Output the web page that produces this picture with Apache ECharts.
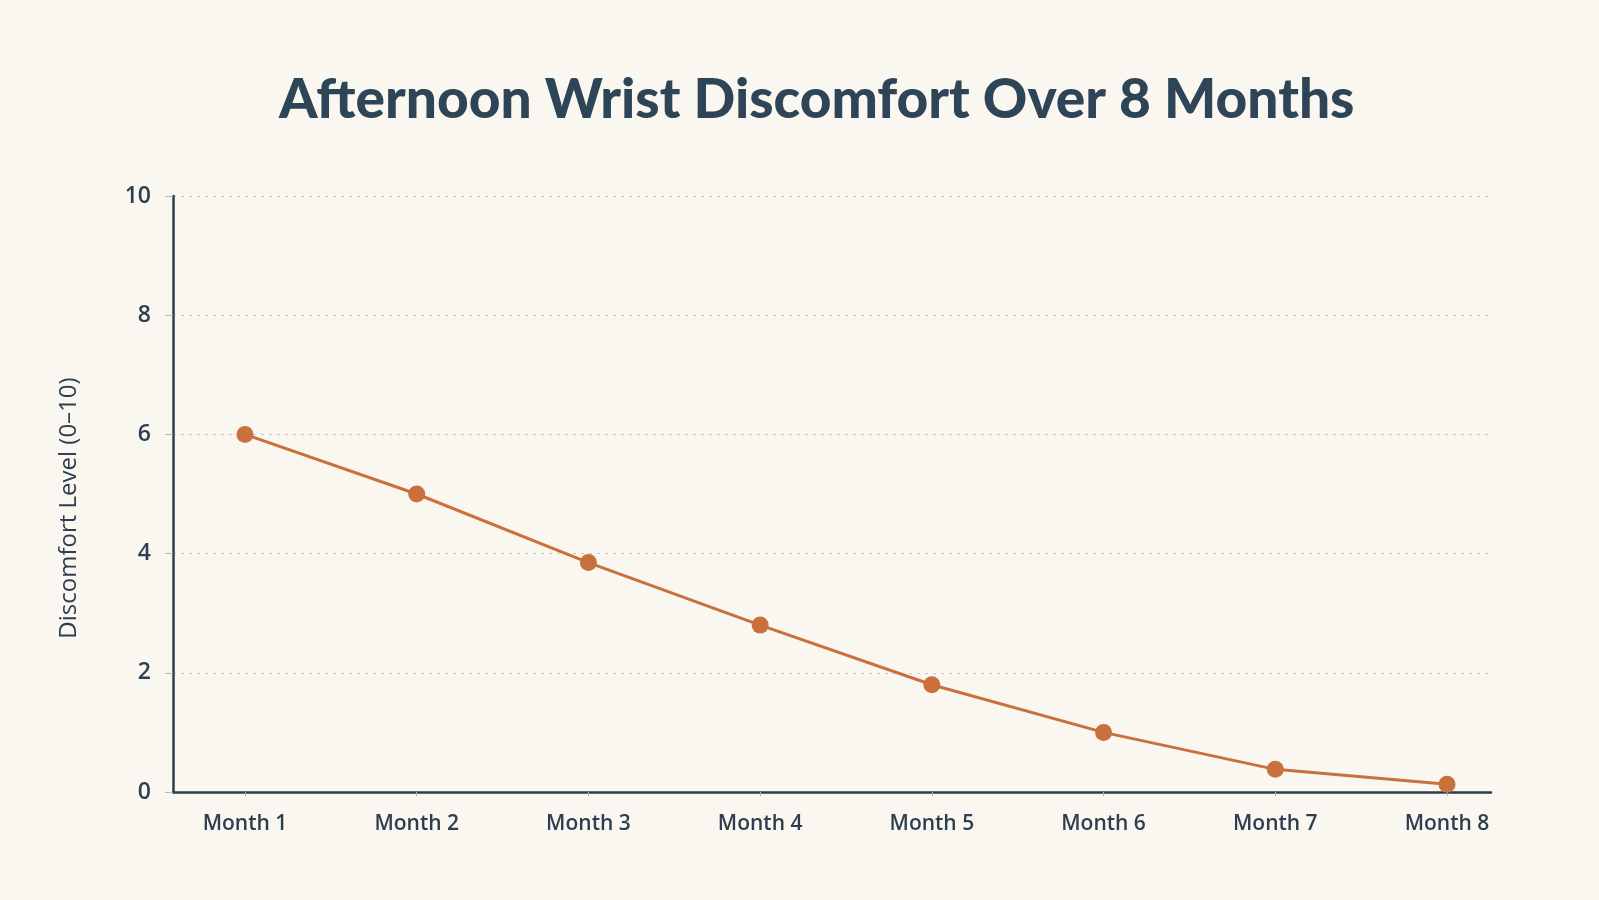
<!DOCTYPE html>
<html>
<head>
<meta charset="utf-8">
<script src="https://cdn.jsdelivr.net/npm/echarts@6/dist/echarts.min.js"></script>
<style>
html,body{margin:0;padding:0;background:#faf7f0;}
#main{width:1599px;height:900px;}
</style>
</head>
<body>
<div id="main"></div>
<script>
const titleText = 'Afternoon Wrist Discomfort Over 8 Months';
const categories = ['Month 1','Month 2','Month 3','Month 4','Month 5','Month 6','Month 7','Month 8'];
const discomfort = [6.0, 5.0, 3.85, 2.8, 1.8, 1.0, 0.38, 0.13];
const yTicks = [0, 2, 4, 6, 8, 10];
const yName = 'Discomfort Level (0–10)';

const dark = '#2c3e50';
const orange = '#c9703d';
const titleFont = 'Lato, sans-serif';
const font = '"Open Sans", Lato, sans-serif';

const chart = echarts.init(document.getElementById('main'));
chart.setOption({
  backgroundColor: '#faf7f0',
  animation: false,
  title: {
    text: titleText,
    left: 274,
    top: 68,
    textStyle: { fontFamily: titleFont, fontWeight: 900, fontSize: 55, color: '#2e4557' }
  },
  grid: [
    { left: 173, right: 108, top: 196, bottom: 108 },
    { left: 245, right: 152, top: 196, bottom: 108 }
  ],
  xAxis: [
    {
      gridIndex: 0, type: 'value', min: 0, max: 1,
      axisLine: { show: true, onZero: false, lineStyle: { color: dark, width: 2.5 } },
      axisTick: { show: false }, axisLabel: { show: false }, splitLine: { show: false }
    },
    {
      gridIndex: 1, type: 'category', data: categories, boundaryGap: false,
      axisLine: { show: false },
      axisTick: { show: true, length: 4, lineStyle: { color: '#aab0b5', width: 1 } },
      axisLabel: { margin: 22, fontFamily: font, fontSize: 21, fontWeight: 600, color: dark },
      splitLine: { show: false }
    }
  ],
  yAxis: [
    {
      gridIndex: 0, type: 'value', min: yTicks[0], max: yTicks[yTicks.length - 1], interval: 2,
      name: yName, nameLocation: 'middle', nameGap: 92, nameRotate: 90,
      nameTextStyle: { fontFamily: font, fontSize: 24, color: dark, padding: [0, 28, 0, 0] },
      axisLine: { show: true, lineStyle: { color: dark, width: 2.5 } },
      axisTick: { show: true, length: 8, lineStyle: { color: '#b5b8ba', width: 1 } },
      axisLabel: { margin: 22, fontFamily: font, fontSize: 23, fontWeight: 600, color: dark },
      splitLine: { show: true, lineStyle: { color: '#c9c9c4', width: 1, type: [3, 5] } }
    },
    {
      gridIndex: 1, type: 'value', min: yTicks[0], max: yTicks[yTicks.length - 1], show: false,
      splitLine: { show: false }
    }
  ],
  series: [
    {
      type: 'line', xAxisIndex: 1, yAxisIndex: 1, data: discomfort,
      smooth: false, symbol: 'circle', symbolSize: 17,
      lineStyle: { color: orange, width: 3 },
      itemStyle: { color: orange },
      z: 5
    }
  ]
});
</script>
</body>
</html>
